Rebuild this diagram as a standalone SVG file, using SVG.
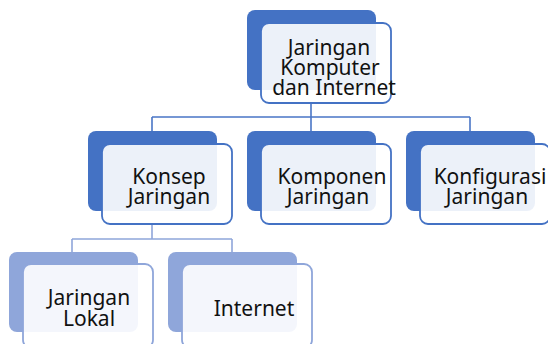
<svg xmlns="http://www.w3.org/2000/svg" width="548" height="344" viewBox="0 0 548 344">
<style>
.b1{fill:#4472c4}
.b3{fill:#8fa6da}
.f1{fill:#ffffff;fill-opacity:0.9;stroke:#4472c4;stroke-width:1.8}
.f3{fill:#ffffff;fill-opacity:0.9;stroke:#8fa6da;stroke-width:1.8}
.c1{fill:none;stroke:#4a76c6;stroke-width:1.6}
.c3{fill:none;stroke:#8fa6da;stroke-width:1.6}
text{font-family:"Noto Sans","Open Sans","DejaVu Sans",sans-serif;font-size:21px;fill:#111;text-anchor:middle}
</style>
<rect width="548" height="344" fill="#ffffff"/>
<g id="connectors">
<path class="c1" d="M311 103V117M152 117H470M152 117V131M311 117V131M470 117V131"/>
<path class="c3" d="M152 224V239M72 239H232M72 239V252M232 239V252"/>
</g>
<g id="n-root">
<rect class="b1" x="247" y="10" width="129" height="80" rx="8"/>
<rect class="f1" x="261" y="23" width="130" height="80" rx="8"/>
<text x="329" y="55">Jaringan</text>
<text x="330" y="75">Komputer</text>
<text x="334" y="95">dan Internet</text>
</g>
<g id="n-konsep">
<rect class="b1" x="88" y="131" width="129" height="80" rx="8"/>
<rect class="f1" x="102" y="144" width="130" height="80" rx="8"/>
<text x="169" y="184">Konsep</text>
<text x="169" y="204">Jaringan</text>
</g>
<g id="n-komponen">
<rect class="b1" x="247" y="131" width="129" height="80" rx="8"/>
<rect class="f1" x="261" y="144" width="130" height="80" rx="8"/>
<text x="332" y="184">Komponen</text>
<text x="328" y="204">Jaringan</text>
</g>
<g id="n-konfigurasi">
<rect class="b1" x="406" y="131" width="129" height="80" rx="8"/>
<rect class="f1" x="420" y="144" width="130" height="80" rx="8"/>
<text x="490" y="184">Konfigurasi</text>
<text x="487" y="204">Jaringan</text>
</g>
<g id="n-lokal">
<rect class="b3" x="9" y="252" width="129" height="80" rx="8"/>
<rect class="f3" x="23" y="264" width="130" height="84" rx="8"/>
<text x="89" y="305">Jaringan</text>
<text x="89" y="326">Lokal</text>
</g>
<g id="n-internet">
<rect class="b3" x="168" y="252" width="129" height="80" rx="8"/>
<rect class="f3" x="182" y="264" width="130" height="84" rx="8"/>
<text x="254" y="316">Internet</text>
</g>
</svg>
